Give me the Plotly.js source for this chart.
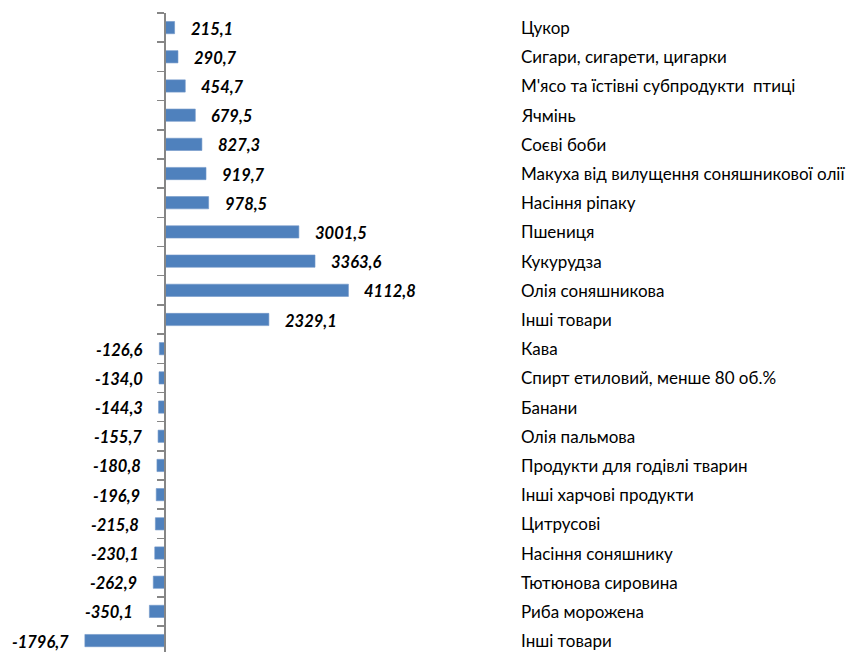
<!DOCTYPE html>
<html>
<head>
<meta charset="utf-8">
<script src="https://cdn.plot.ly/plotly-3.0.1.min.js"></script>
<style>
  body{margin:0;padding:0;background:#fff;}
  #chart{width:853px;height:652px;}
</style>
</head>
<body>
<div id="chart"></div>
<script>
// категорії (зверху вниз)
var categories=['Цукор','Сигари, сигарети, цигарки','М\'ясо та їстівні субпродукти  птиці','Ячмінь','Соєві боби',
  'Макуха від вилущення соняшникової олії','Насіння ріпаку','Пшениця','Кукурудза','Олія соняшникова','Інші товари',
  'Кава','Спирт етиловий, менше 80 об.%','Банани','Олія пальмова','Продукти для годівлі тварин','Інші харчові продукти',
  'Цитрусові','Насіння соняшнику','Тютюнова сировина','Риба морожена','Інші товари'];

// сальдо, млн дол.
var values=[215.1,290.7,454.7,679.5,827.3,919.7,978.5,3001.5,3363.6,4112.8,2329.1,
  -126.6,-134.0,-144.3,-155.7,-180.8,-196.9,-215.8,-230.1,-262.9,-350.1,-1796.7];

const W=853, H=652;
const AXIS_PX=165;        // position of zero line
const PX_PER_UNIT=0.0446;
const LABEL_PX=519;       // left edge of category names

var idx=categories.map(function(c,i){return i;});
var bounds=[];
for (let i=0;i<=categories.length;i++){
  bounds.push(i-0.5);
}

function fmt(v){
  //number with decimal comma
  return v.toFixed(1).replace('.',',');
}

var annotations=[];
for (let i=0;i<values.length;i++){
  let v=values[i];
  annotations.push({
    x:v, y:i, xref:'x', yref:'y',
    text:'<b><i>'+fmt(v)+'</i></b>',
    showarrow:false,
    xanchor:v>=0?'left':'right',
    xshift:v>=0?14:-14,
    yshift:-1,
    font:{family:'Lato, sans-serif',size:16.5,color:'#000'}
  });
  annotations.push({
    x:LABEL_PX/W, y:i, xref:'paper', yref:'y',
    text:categories[i],
    showarrow:false,
    xanchor:'left',
    font:{family:'Lato, sans-serif',size:17,color:'#000'}
  });
}

var data=[{
  type:'bar',
  orientation:'h',
  x:values,
  y:idx,
  width:0.42,
  marker:{color:'#4F81BD',line:{color:'#7096c8',width:0.6}},
  hoverinfo:'none'
}];

var plotH=H-13;
var span=plotH/29.19;

var layout={
  width:W,height:H,
  margin:{l:0,r:0,t:13,b:0},
  paper_bgcolor:'#fff',plot_bgcolor:'#fff',
  showlegend:false,
  xaxis:{
    range:[-AXIS_PX/PX_PER_UNIT,(W-AXIS_PX)/PX_PER_UNIT],
    visible:false,fixedrange:true
  },
  yaxis:{
    range:[-0.5+span,-0.5],
    anchor:'free',position:AXIS_PX/W,
    showline:true,linecolor:'#868686',linewidth:2,
    ticks:'outside',tickvals:bounds,ticklen:7,tickwidth:1.5,tickcolor:'#868686',
    showticklabels:false,showgrid:false,zeroline:false,fixedrange:true
  },
  annotations:annotations
};

Plotly.newPlot('chart',data,layout,{displayModeBar:false,staticPlot:true});
</script>
</body>
</html>
